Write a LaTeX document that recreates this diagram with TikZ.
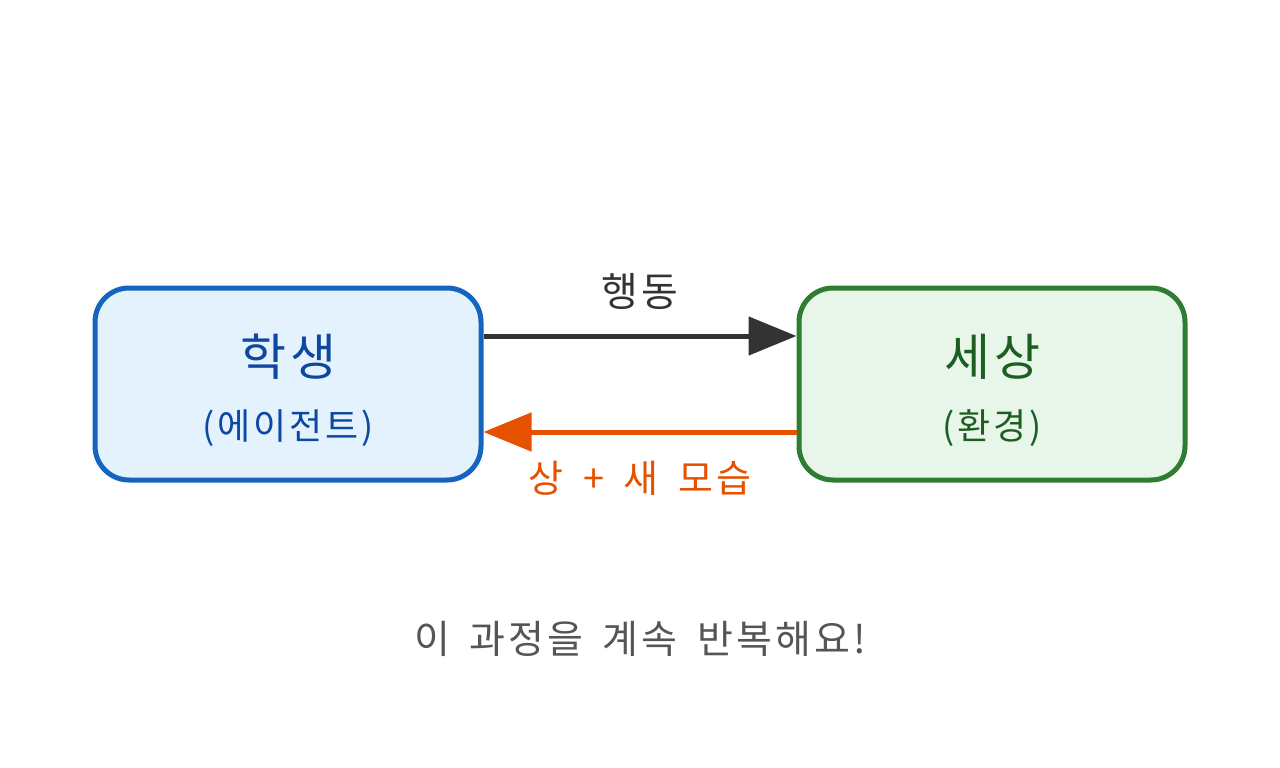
\documentclass[tikz,border=0pt]{standalone}
\usepackage{fontspec}
\setmainfont{Noto Sans CJK KR}[LetterSpace=8]
\usetikzlibrary{arrows.meta}
\definecolor{bluestroke}{HTML}{1565C0}
\definecolor{bluefill}{HTML}{E3F2FD}
\definecolor{bluetext}{HTML}{0D47A1}
\definecolor{greenstroke}{HTML}{2E7D32}
\definecolor{greenfill}{HTML}{E8F5E9}
\definecolor{greentext}{HTML}{1B5E20}
\definecolor{darkline}{HTML}{333333}
\definecolor{orangeline}{HTML}{E65100}
\definecolor{graytext}{HTML}{555555}
\newcommand{\fsz}[2]{\fontsize{#2}{#2}\selectfont\spaceskip=#1\relax}
\begin{document}
\begin{tikzpicture}[x=1pt,y=-1pt,
  box/.style={draw, line width=5pt, rounded corners=34pt, minimum width=386pt, minimum height=192pt, inner sep=0pt},
  conn/.style={line width=5pt, -{Triangle[length=48pt,width=38pt]}},
  lbl/.style={inner sep=0pt, anchor=center}]
\useasboundingbox (0,0) rectangle (1280,768);
\node[box, draw=bluestroke, fill=bluefill] (agent) at (288,384) {};
\node[box, draw=greenstroke, fill=greenfill] (world) at (992,384) {};
\node[lbl, text=bluetext, font={\fsz{0.5em}{50}}] (agentT) at (288,357) {학생};
\node[lbl, text=bluetext, font={\fsz{0.5em}{36}}] (agentS) at (288,428) {(에이전트)};
\node[lbl, text=greentext, font={\fsz{0.5em}{50}}] (worldT) at (992,357) {세상};
\node[lbl, text=greentext, font={\fsz{0.5em}{36}}] (worldS) at (992,428) {(환경)};
\coordinate (a1) at (agent.east |- 0,336);
\coordinate (w1) at (world.west |- 0,336);
\coordinate (a2) at (agent.east |- 0,432);
\coordinate (w2) at (world.west |- 0,432);
\draw[conn, darkline] (a1) -- (w1);
\draw[conn, orangeline] (w2) -- (a2);
\node[lbl, text=darkline, font={\fsz{0.5em}{40}}] (act) at (640,291) {행동};
\node[lbl, text=orangeline, font={\fsz{0.52em}{38}}] (rew) at (640,478) {상 + 새 모습};
\node[lbl, text=graytext, font={\fsz{0.5em}{39}}] (note) at (640,639) {이 과정을 계속 반복해요!};
\end{tikzpicture}
\end{document}
